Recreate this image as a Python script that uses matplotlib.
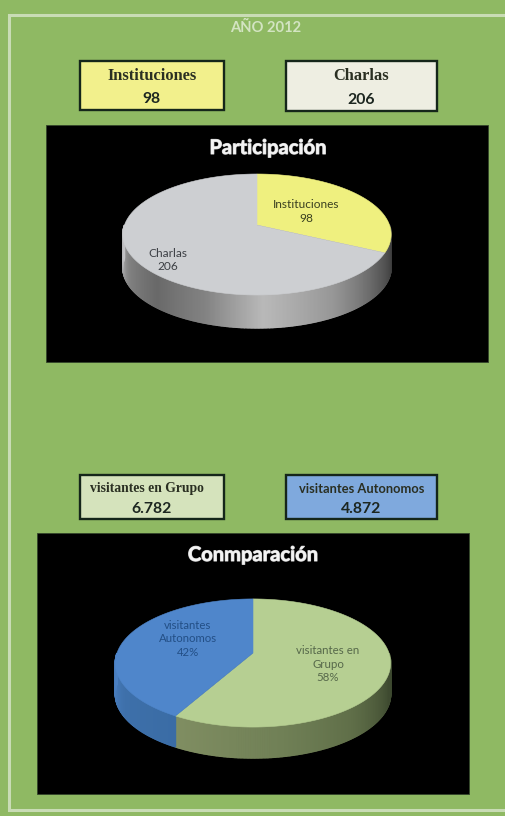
"""
  Panel AÑO 2012: dos tortas 3D con sus cajas de valores.
"""
import numpy as np
import matplotlib
matplotlib.use("Agg")
import matplotlib.pyplot as plt
import matplotlib.patheffects as pe
from matplotlib.patches import Rectangle

# Datos
titulo = "AÑO 2012"
part_categorias = ["Instituciones", "Charlas"]
part_valores = [98, 206]
part_textos = ["98", "206"]
comp_categorias = ["visitantes en Grupo", "visitantes Autonomos"]
comp_valores = [6782, 4872]
comp_textos = ["6.782", "4.872"]

VERDE = "#8fb963"
BORDE = "#c9dcb5"

fig = plt.figure(figsize=(5.05, 8.16), dpi=100, facecolor=VERDE)
ax = fig.add_axes([0, 0, 1, 1])
ax.set_xlim(0, 505)
ax.set_ylim(816, 0)
ax.axis("off")


def punto (ang, cx, cy, R, S, k, fondo=0):
  # Angulo en grados desde arriba, sentido horario, con perspectiva
  a = np.radians(ang)
  x, y = np.sin(a), np.cos(a)
  d = 1 + k*y
  return cx + R*x/d, cy - S*y/d + fondo


def torta (valores, colores, lado, cx, cy, R, S, k, prof):
  """
    Dibuja una torta: primero el lateral y despues las caras de arriba.
  """
  fracciones = np.array(valores)/sum(valores)
  limites = np.concatenate([[0], np.cumsum(fracciones)*360])

  # Lateral visible, de 90 a 270 grados
  angs = np.arange(90, 270.5, 0.5)
  for a0, a1 in zip(angs[:-1], angs[1:]):
    x0, y0 = punto(a0, cx, cy, R, S, k)
    x1, y1 = punto(a1, cx, cy, R, S, k)
    med = (a0 + a1)/2
    i = np.searchsorted(limites, med) - 1
    tabla = lado[i]
    c = [np.interp(med, tabla[0], tabla[j])/255 for j in (1, 2, 3)]
    ax.fill([x0, x1, x1, x0], [y0, y1, y1 + prof, y0 + prof], color=c, lw=1.0, zorder=3)

  # Caras de arriba
  for i, color in enumerate(colores):
    t = np.linspace(limites[i], limites[i + 1], 200)
    xs, ys = punto(t, cx, cy, R, S, k)
    ax.fill(np.r_[cx, xs], np.r_[cy, ys], color=color, lw=0.4, zorder=4)


def caja (x0, y0, x1, y1, color, texto, valor, **fuente):
  ax.add_patch(Rectangle((x0, y0), x1 - x0, y1 - y0, fc=color, ec="#15261a", lw=1.7, zorder=2))
  ax.text((x0 + x1)/2 + fuente.pop("dx", 0), y0 + (y1 - y0)*0.31, texto, ha="center", va="center",
          color="#2a2f22", fontweight="bold", zorder=3, **fuente)
  ax.text((x0 + x1)/2 - 0.5, y0 + (y1 - y0)*0.78, valor, ha="center", va="center", color="#1c2620",
          fontweight="bold", family="Lato", fontsize=11.3, zorder=3)


def etiqueta (x, y, texto, color, tam):
  ax.text(x, y, texto, fontsize=tam, color=color, family="Lato", ha="center", va="center",
          linespacing=1.3, zorder=5)


def titulo_negro (x, y, texto):
  ax.text(x, y, texto, color="#f4f4f4", fontsize=14.5, fontweight="bold", family="Lato",
          ha="center", va="center", zorder=5,
          path_effects=[pe.withStroke(linewidth=0.8, foreground="#c8c8c8")])


# Marco claro, abierto a la derecha
ax.plot([505, 9, 9, 505], [15, 15, 810, 810], color=BORDE, lw=2.2, solid_joinstyle="miter", zorder=1)
ax.text(265.5, 28, titulo, color="#d3e4c2", fontsize=10.6, fontweight="bold", family="Lato",
        ha="center", va="center")

# Cajas
caja(80, 61, 224, 110, "#f2f08c", part_categorias[0], part_textos[0], family="Liberation Serif", fontsize=11.8)
caja(286, 61, 437, 111, "#eeeee2", part_categorias[1], part_textos[1], family="Liberation Serif", fontsize=11.8)
caja(80, 475, 224, 519, "#d5e3bc", comp_categorias[0], comp_textos[0], family="Liberation Serif", fontsize=9.8, dx=-5)
caja(286, 475, 437, 519, "#7fa9dd", comp_categorias[1], comp_textos[1], family="Lato", fontsize=9.3)

# Fondos negros
ax.add_patch(Rectangle((46, 125), 442, 237, fc="black", ec="#33452a", lw=0.6, zorder=2))
ax.add_patch(Rectangle((37, 533), 432, 261, fc="black", ec="#33452a", lw=0.6, zorder=2))

titulo_negro(268, 148, "Participación")
titulo_negro(253, 555, "Conmparación")

# Torta de participacion
lado_gris = ([90, 105, 125, 150, 178, 200, 222, 245, 270],
             [50, 62, 95, 150, 185, 130, 105, 130, 195],
             [50, 62, 95, 150, 185, 130, 105, 130, 195],
             [50, 62, 95, 150, 185, 130, 105, 130, 198])
torta(part_valores, ["#eff07f", "#cdcfd2"], [lado_gris, lado_gris], 257, 225, 132.5, 59, 0.157, 33)

etiqueta(306, 211.5, f"{part_categorias[0]}\n{part_textos[0]}", "#3a4020", 8.6)
etiqueta(168, 260, f"{part_categorias[1]}\n{part_textos[1]}", "#3c3f44", 8.6)

# Torta de comparacion
lado_verde = ([90, 110, 140, 170, 210],
              [58, 62, 95, 112, 128],
              [70, 74, 110, 128, 142],
              [45, 48, 72, 86, 98])
lado_azul = ([209, 240, 270],
             [58, 62, 75],
             [108, 112, 128],
             [165, 170, 195])
pct = [round(100*v/sum(comp_valores)) for v in comp_valores]
torta(comp_valores, ["#b6cf92", "#4f86cb"], [lado_verde, lado_azul], 253, 653, 136, 62.5, 0.156, 31)

etiqueta(328, 664, f"visitantes en\nGrupo\n{pct[0]}%", "#56684a", 8.3)
etiqueta(188, 639, f"visitantes\nAutonomos\n{pct[1]}%", "#234f86", 8.2)

fig.savefig("out.png", dpi=100, facecolor=VERDE)
